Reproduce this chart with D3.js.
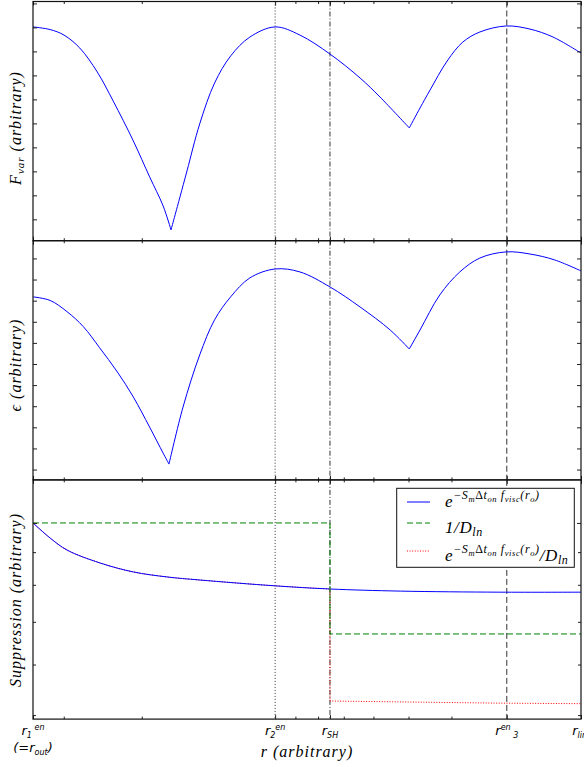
<!DOCTYPE html>
<html>
<head>
<meta charset="utf-8">
<script src="https://cdn.jsdelivr.net/npm/d3@7"></script>
<style>
  body { margin: 0; background: #fff; }
  svg { display: block; }
</style>
</head>
<body>
<svg id="chart" width="584" height="767"></svg>
<script>
// ---- data (radius in arbitrary units, outer radius on the left) ----
const rFvar = [35.2, 32.2, 29.96, 27.6, 25.2, 23.2, 20.9, 19.2, 17.9, 17.18, 16.4, 15.81, 14.8, 13.7, 12.6, 11.4, 10.0, 8.79, 7.52, 6.43, 5.80, 4.98, 4.71, 4.47, 4.09, 3.77, 3.45, 3.01, 2.66, 2.36, 2.04];
const fvar  = [8.02, 7.91, 7.68, 7.14, 6.14, 4.93, 3.27, 1.77, 0.56, -0.44, 0.93, 2.02, 3.98, 5.68, 6.81, 7.6, 8.02, 7.68, 6.89, 5.89, 5.1, 3.81, 4.64, 5.39, 6.6, 7.39, 7.81, 8.06, 7.93, 7.6, 6.93];
const fvarCusps = [17.18, 4.98];

const rEps = [35.2, 32.2, 29.5, 27.1, 24.9, 22.7, 20.9, 19.2, 17.9, 17.36, 16.14, 14.8, 13.7, 12.6, 11.4, 10.0, 8.79, 7.52, 6.43, 5.50, 4.98, 4.71, 4.25, 3.83, 3.45, 3.01, 2.66, 2.34, 2.04];
const eps  = [8.18, 8.01, 7.48, 6.77, 5.77, 4.62, 3.44, 2.01, 0.78, 0.26, 2.96, 5.43, 7.09, 8.18, 9.08, 9.50, 9.36, 8.65, 7.70, 6.61, 5.71, 6.61, 8.27, 9.36, 10.02, 10.31, 10.21, 9.93, 9.41];
const epsCusps = [17.36, 4.98];

const rVisc = [35.2, 32.2, 29.5, 24.9, 20.9, 17.54, 14.8, 10.0, 7.52, 5.22, 3.11, 2.04];
const suppVisc = [1.0, 0.947, 0.907, 0.866, 0.838, 0.823, 0.814, 0.797, 0.788, 0.782, 0.779, 0.779];

const rDln = [35.2, 7.52, 7.52, 2.04];
const invDln = [1.0, 1.0, 0.670, 0.670];

const rTotal = [35.2, 32.2, 29.5, 24.9, 20.9, 17.54, 14.8, 10.0, 7.52, 7.52, 3.11, 2.04];
const suppTotal = [1.0, 0.947, 0.907, 0.866, 0.838, 0.823, 0.814, 0.797, 0.788, 0.526, 0.522, 0.521];

// characteristic radii marked on the r axis
const rOut = 35.2, r2en = 10, rSH = 7.52, r3en = 3, rLim = 2.04;
const minorR = [30, 20, 9, 8, 7, 6, 5, 4];
const linTicksTop = [0, 1, 2, 3, 4, 5, 6, 7, 8, 9];
const linTicksMid = [0, 1, 2, 3, 4, 5, 6, 7, 8, 9, 10];
const logMajorY = [1];
const logMinorY = [0.5, 0.6, 0.7, 0.8, 0.9];

// ---- layout ----
const svg = d3.select("#chart");
const serif = "'Liberation Serif', 'DejaVu Serif', serif";
const sans = "'DejaVu Sans', 'Liberation Sans', sans-serif";
const left = 33, right = 581;
const bounds = [1.5, 240.7, 479.9, 719.1];

const x = d3.scaleLog().domain([rOut, rLim]).range([left, right]);
const yTop = d3.scaleLinear().domain([-0.89, 9.08]).range([bounds[1], bounds[0]]);
const yMid = d3.scaleLinear().domain([-0.49, 10.84]).range([bounds[2], bounds[1]]);
const yBot = d3.scaleLog().domain([0.4928, 1.168]).range([bounds[3], bounds[2]]);

const pairs = (rs, vs) => rs.map((r, i) => [r, vs[i]]);

function clipFor(id, y0, y1) {
  svg.append("clipPath").attr("id", id)
    .append("rect").attr("x", left).attr("y", y0).attr("width", right - left).attr("height", y1 - y0);
  return `url(#${id})`;
}

function frame(y, yMajor, yMinor, idx) {
  const y0 = bounds[idx], y1 = bounds[idx + 1];
  const g = svg.append("g");
  const noDomain = s => s.select(".domain").remove();
  const xMajor = [rOut, r2en, rSH, r3en, rLim];
  // x ticks, pointing inward, on top and bottom
  g.append("g").attr("transform", `translate(0,${y1})`)
    .call(d3.axisBottom(x).tickValues(xMajor).tickSize(-4).tickFormat("")).call(noDomain);
  g.append("g").attr("transform", `translate(0,${y1})`)
    .call(d3.axisBottom(x).tickValues(minorR).tickSize(-2.5).tickFormat("")).call(noDomain);
  g.append("g").attr("transform", `translate(0,${y0})`)
    .call(d3.axisTop(x).tickValues(xMajor).tickSize(-4).tickFormat("")).call(noDomain);
  g.append("g").attr("transform", `translate(0,${y0})`)
    .call(d3.axisTop(x).tickValues(minorR).tickSize(-2.5).tickFormat("")).call(noDomain);
  // y ticks, pointing inward, on left and right
  g.append("g").attr("transform", `translate(${left},0)`)
    .call(d3.axisLeft(y).tickValues(yMajor).tickSize(-4).tickFormat("")).call(noDomain);
  g.append("g").attr("transform", `translate(${right},0)`)
    .call(d3.axisRight(y).tickValues(yMajor).tickSize(-4).tickFormat("")).call(noDomain);
  if (yMinor) {
    g.append("g").attr("transform", `translate(${left},0)`)
      .call(d3.axisLeft(y).tickValues(yMinor).tickSize(-3).tickFormat("")).call(noDomain);
    g.append("g").attr("transform", `translate(${right},0)`)
      .call(d3.axisRight(y).tickValues(yMinor).tickSize(-3).tickFormat("")).call(noDomain);
  }
  g.selectAll(".tick line").attr("stroke", "#222").attr("stroke-width", 1);
  return g;
}

function markers(clip, y0, y1) {
  const g = svg.append("g").attr("clip-path", clip);
  const defs = [[r2en, "1,2"], [rSH, "5,2,1,2"], [r3en, "6,3"]];
  defs.forEach(([r, dash]) => {
    g.append("line")
      .attr("x1", x(r)).attr("x2", x(r)).attr("y1", y0).attr("y2", y1)
      .attr("stroke", "#333").attr("stroke-width", 1).attr("stroke-dasharray", dash);
  });
}

// smooth curve that stays sharp at the listed cusp radii
function curve(clip, y, rs, vs, cusps, color, dash) {
  const pts = pairs(rs, vs);
  const segs = [];
  let cur = [];
  pts.forEach(p => {
    cur.push(p);
    if (cusps.includes(p[0])) { segs.push(cur); cur = [p]; }
  });
  if (cur.length > 1) segs.push(cur);
  const line = d3.line().x(d => x(d[0])).y(d => y(d[1])).curve(d3.curveCatmullRom.alpha(0.5));
  const g = svg.append("g").attr("clip-path", clip);
  segs.forEach(s => {
    g.append("path").datum(s)
      .attr("d", line).attr("fill", "none").attr("stroke", color).attr("stroke-width", 1)
      .attr("stroke-linejoin", "round")
      .attr("stroke-dasharray", dash || null);
  });
}

function straight(clip, y, data, color, dash) {
  const line = d3.line().x(d => x(d[0])).y(d => y(d[1]));
  svg.append("path").attr("clip-path", clip).datum(data)
    .attr("d", line).attr("fill", "none").attr("stroke", color).attr("stroke-width", 1)
    .attr("stroke-dasharray", dash || null);
}

// write a math-like string built from parts {t, s (size), o (vertical offset)}
function mathText(parent, px, py, parts, opts = {}) {
  const t = parent.append("text").attr("x", px).attr("y", py)
    .attr("text-anchor", opts.anchor || "start")
    .attr("font-family", opts.family || serif)
    .attr("font-style", opts.style || "italic")
    .attr("fill", "#000");
  if (opts.spacing) t.attr("letter-spacing", opts.spacing);
  if (opts.transform) t.attr("transform", opts.transform);
  let cur = 0;
  parts.forEach(p => {
    const o = p.o || 0;
    const ts = t.append("tspan").attr("font-size", p.s).text(p.t);
    if (o !== cur) ts.attr("dy", o - cur);
    if (p.upright) ts.attr("font-style", "normal");
    cur = o;
  });
  return t;
}

// ---- panel 1: F_var ----
const c1 = clipFor("clip1", bounds[0], bounds[1]);
markers(c1, bounds[0], bounds[1]);
curve(c1, yTop, rFvar, fvar, fvarCusps, "#0000ff");
frame(yTop, linTicksTop, null, 0);

// ---- panel 2: epsilon ----
const c2 = clipFor("clip2", bounds[1], bounds[2]);
markers(c2, bounds[1], bounds[2]);
curve(c2, yMid, rEps, eps, epsCusps, "#0000ff");
frame(yMid, linTicksMid, null, 1);

// ---- panel 3: suppression factors (log scale) ----
const c3 = clipFor("clip3", bounds[2], bounds[3]);
markers(c3, bounds[2], bounds[3]);
curve(c3, yBot, rTotal.slice(0, 9), suppTotal.slice(0, 9), [], "#ff0000", "1,1.6");
straight(c3, yBot, pairs(rTotal.slice(8), suppTotal.slice(8)), "#ff0000", "1,1.6");
curve(c3, yBot, rVisc, suppVisc, [], "#0000ff");
straight(c3, yBot, pairs(rDln, invDln), "#008000", "6,3");
frame(yBot, logMajorY, logMinorY, 2);

// panel borders
for (let i = 0; i < 3; i++) {
  svg.append("rect").attr("x", left).attr("y", bounds[i])
    .attr("width", right - left).attr("height", bounds[i + 1] - bounds[i])
    .attr("fill", "none").attr("stroke", "#111").attr("stroke-width", 1.2);
}

// ---- legend ----
const lg = svg.append("g");
lg.append("rect").attr("x", 396.7).attr("y", 488.3).attr("width", 177.6).attr("height", 79)
  .attr("fill", "#fff").attr("stroke", "#111").attr("stroke-width", 1);
const legendRows = [
  { y: 502, color: "#0000ff", dash: null, base: 507 },
  { y: 523, color: "#008000", dash: "6,3", base: 533 },
  { y: 551, color: "#ff0000", dash: "1,1.6", base: 561 }
];
legendRows.forEach(rw => {
  lg.append("line").attr("x1", 407).attr("x2", 430).attr("y1", rw.y).attr("y2", rw.y)
    .attr("stroke", rw.color).attr("stroke-width", 1).attr("stroke-dasharray", rw.dash);
});
const expParts = [
  { t: "e", s: 17, o: 0 },
  { t: "\u2212S", s: 12, o: -8 }, { t: "m", s: 8.5, o: -5.5 },
  { t: "\u0394", s: 12, o: -8, upright: true }, { t: "t", s: 12, o: -8 }, { t: "on", s: 8.5, o: -5.5 },
  { t: " f", s: 12, o: -8 }, { t: "visc", s: 8.5, o: -5.5 },
  { t: "(r", s: 12, o: -8 }, { t: "o", s: 8.5, o: -5.5 }, { t: ")", s: 12, o: -8 }
];
const dlnParts = [{ t: "/D", s: 17, o: 0 }, { t: "ln", s: 12, o: 3 }];
const legOpts = { spacing: 0.6 };
mathText(lg, 445, legendRows[0].base, expParts, legOpts);
mathText(lg, 445, legendRows[1].base, [{ t: "1/D", s: 17, o: 0 }, { t: "ln", s: 12, o: 3 }], legOpts);
mathText(lg, 445, legendRows[2].base, expParts.concat(dlnParts), legOpts);

// ---- axis labels ----
const labelOpts = a => Object.assign({ anchor: "middle", spacing: 1 }, a);
mathText(svg, 0, 0, [{ t: "F", s: 16, o: 0 }, { t: "var", s: 11, o: 3 }, { t: " (arbitrary)", s: 16, o: 0 }],
  labelOpts({ transform: "translate(21,128) rotate(-90)" }));
mathText(svg, 0, 0, [{ t: "\u03f5 (arbitrary)", s: 16, o: 0 }],
  labelOpts({ transform: "translate(21,365) rotate(-90)" }));
mathText(svg, 0, 0, [{ t: "Suppression (arbitrary)", s: 16, o: 0 }],
  labelOpts({ transform: "translate(21,600) rotate(-90)" }));
mathText(svg, 307, 757, [{ t: "r (arbitrary)", s: 16, o: 0 }], labelOpts({}));

// ---- r-axis tick labels ----
const tickOpts = { anchor: "middle", family: sans, style: "oblique" };
const tl = svg.append("g");
mathText(tl, x(rOut), 735, [{ t: "r", s: 13, o: 0 }, { t: "1", s: 8, o: 3 }, { t: " en", s: 8, o: -5 }], tickOpts);
mathText(tl, x(rOut), 752, [{ t: "(=r", s: 13, o: 0 }, { t: "out", s: 8, o: 3 }, { t: ")", s: 13, o: 0 }], tickOpts);
mathText(tl, x(r2en), 735, [{ t: "r", s: 13, o: 0 }, { t: "2", s: 8, o: 3 }, { t: "en", s: 8, o: -5 }], tickOpts);
mathText(tl, x(rSH), 735, [{ t: "r", s: 13, o: 0 }, { t: "SH", s: 8, o: 3 }], tickOpts);
mathText(tl, x(r3en), 735, [{ t: "r", s: 13, o: 0 }, { t: "en", s: 8, o: -5 }, { t: " 3", s: 8, o: 3 }], tickOpts);
mathText(tl, x(rLim), 735, [{ t: "r", s: 13, o: 0 }, { t: "lim", s: 8, o: 3 }], tickOpts);
</script>
</body>
</html>
